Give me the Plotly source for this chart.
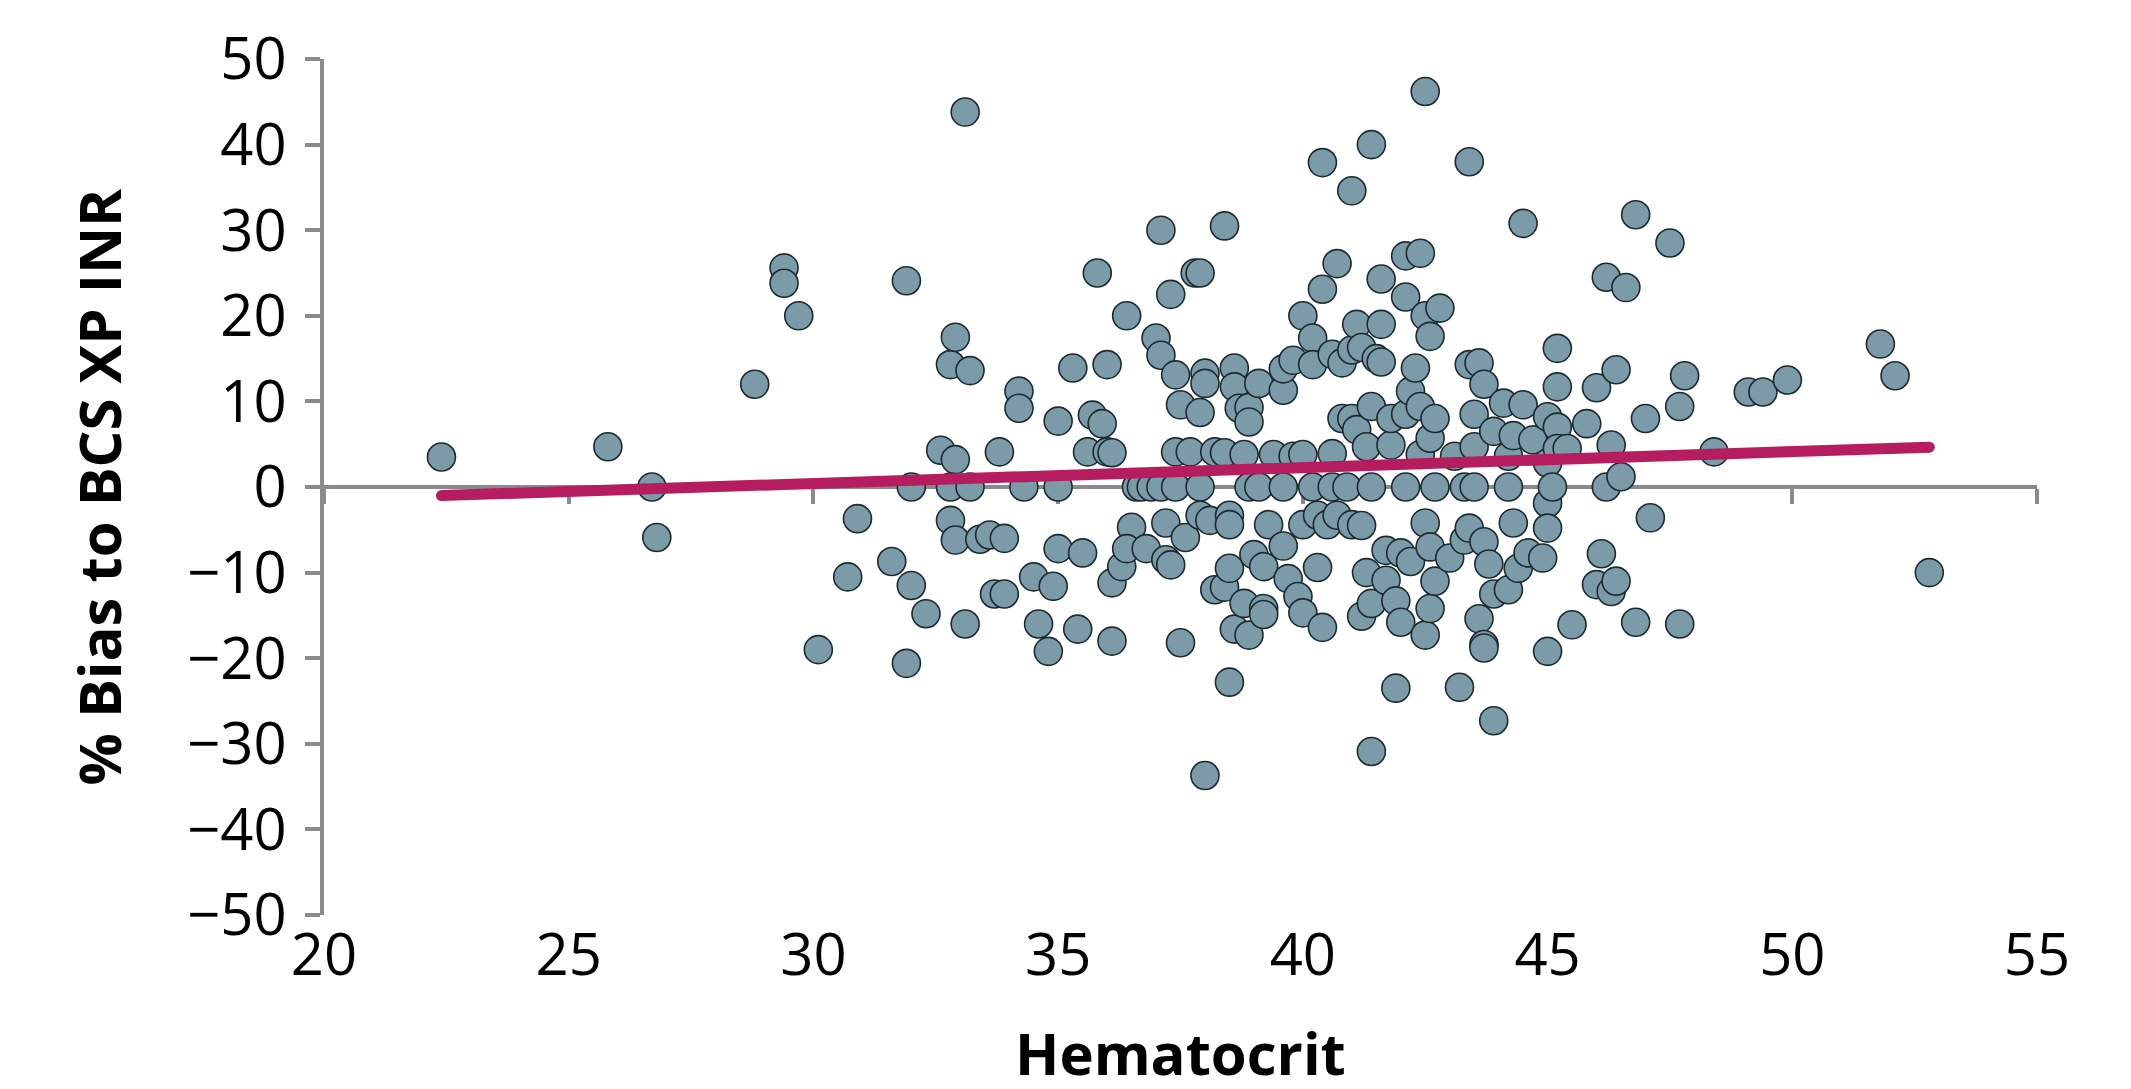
import plotly.graph_objects as go

# ---- data ----
hematocrit = [
    22.4, 25.8, 26.7, 26.8, 28.8, 29.4, 29.4, 29.7, 30.1, 30.7, 30.9, 31.6, 31.9, 32.0, 32.0, 31.9, 32.3, 32.6,
    32.8, 32.9, 32.9, 32.8, 32.8, 32.9, 33.1, 33.2, 33.2, 33.1, 33.4, 33.6, 33.9, 33.8, 33.7, 33.9, 34.2, 34.2,
    34.3, 34.5, 34.6, 34.8, 34.9, 35.0, 35.0, 35.0, 35.3,
    35.4, 35.5, 35.6, 35.7, 35.8, 35.9, 36.0, 36.0, 36.1, 36.1, 36.1, 36.3, 36.4, 36.5, 36.4, 36.6, 36.8, 36.7, 36.9,
    37.0, 37.1, 37.1, 37.2, 37.2, 37.3, 37.3, 37.4, 37.4, 37.1, 37.4, 37.5, 37.5, 37.6, 37.7, 37.8, 37.9, 37.9, 37.9,
    37.9, 38.0, 38.0, 38.0, 38.1, 38.2, 38.2, 38.4, 38.4, 38.4, 38.5, 38.5, 38.5, 38.5, 38.6, 38.6, 38.6, 38.7, 38.8,
    38.8, 38.9, 38.9, 38.9, 38.9, 39.0, 39.1, 39.1, 39.2, 39.2, 39.2, 39.3, 39.4, 39.6, 39.6, 39.6, 39.6, 39.7, 39.8,
    39.8, 39.9,
    40.0, 40.0, 40.0, 40.0, 40.2, 40.2, 40.2, 40.3, 40.3, 40.4, 40.4, 40.4, 40.5, 40.6, 40.6, 40.6, 40.7, 40.7, 40.8,
    40.8, 40.9, 41.0, 41.0, 41.0, 41.0, 41.1, 41.1, 41.2, 41.2, 41.2, 41.3, 41.3, 41.4, 41.4, 41.4, 41.4, 41.4, 41.5,
    41.6, 41.6, 41.6, 41.7, 41.7, 41.8, 41.8, 41.9, 41.9, 42.0, 42.0, 42.1, 42.1, 42.1, 42.1, 42.2, 42.2, 42.3, 42.4,
    42.4, 42.4, 42.5, 42.5, 42.5, 42.5, 42.6, 42.6, 42.6, 42.6, 42.7, 42.7, 42.7, 42.8,
    43.0, 43.1, 43.2, 43.3, 43.3, 43.4, 43.4, 43.4, 43.5, 43.5, 43.5, 43.6, 43.6, 43.7, 43.7, 43.7, 43.7, 43.8, 43.9,
    43.9, 43.9, 44.1, 44.2, 44.2, 44.2, 44.3, 44.3, 44.4, 44.5, 44.5, 44.6, 44.7, 44.9, 45.0, 45.0, 45.0, 45.0, 45.0,
    45.1, 45.2, 45.2, 45.2, 45.2, 45.4, 45.5, 45.8,
    46.0, 46.1, 46.0, 46.2, 46.2, 46.3, 46.3, 46.4, 46.4, 46.5, 46.6, 46.8, 46.8, 47.0, 47.1, 47.5, 47.7, 47.7, 47.8,
    48.4, 49.1, 49.4, 49.9, 51.8, 52.1, 52.8,
]
bias = [
    3.5, 4.7, 0.0, -5.9, 12.0, 25.6, 23.8, 20.0, -19.0, -10.5, -3.7, -8.7, 24.1, 0.0, -11.5, -20.6, -14.8, 4.3,
    14.3, 17.5, 3.2, 0.0, -3.9, -6.2, 43.8, 13.6, 0.0, -16.0, -6.1, -5.6, -6.0, 4.1, -12.5, -12.5, 11.2, 9.2,
    0.0, -10.5, -16.0, -19.2, -11.6, 7.7, -7.2, 0.0, 13.9,
    -16.6, -7.7, 4.1, 8.4, 25.0, 7.4, 14.3, 4.1, 4.0, -11.2, -18.0, -9.3, 20.0, -4.7, -7.2, 0.0, -7.2, 0.0, 0.0,
    17.4, 15.4, 30.0, -4.2, -8.5, -9.1, 22.5, 13.1, 4.1, 0.0, 0.0, 9.6, -18.2, -5.9, 4.1, 25.0, 25.0, 8.7, 0.0,
    -3.3, 13.3, 12.1, -33.7, -3.9, -12.0, 4.1, 30.5, 4.0, -11.7, -3.3, -4.4, -9.5, -22.8, 13.9, 11.7, -16.6, 9.2, -13.6,
    3.8, 9.3, 7.6, 0.0, -17.3, -7.9, 12.1, 0.0, -9.3, -14.2, -14.9, -4.4, 3.8, 11.3, 13.8, 0.0, -6.9, -10.7, 14.8,
    3.6, -12.8,
    20.0, 3.8, -14.7, -4.4, 17.4, 14.3, 0.0, -3.3, -9.4, 37.9, 23.1, -16.4, -4.4, 15.5, 3.9, 0.0, 26.1, -3.3, 8.0,
    14.5, 0.0, 34.6, 8.0, 16.0, -4.4, 19.0, 6.7, -4.5, -15.1, 16.3, 4.7, -10.0, 40.0, 9.4, 0.0, -13.6, -30.9, 15.0,
    24.3, 19.0, 14.6, -7.4, -10.9, 4.9, 8.0, -13.3, -23.5, -7.7, -15.8, 27.0, 22.2, 0.0, 8.5, 11.2, -8.7, 13.9, 27.3,
    9.4, 3.8, 46.2, 20.0, -4.2, -17.3, 17.6, 5.7, -7.0, -14.2, 8.0, 0.0, -11.0, 20.9,
    -8.3, 3.6, -23.4, 0.0, -6.2, 38.0, 14.3, -4.8, 4.7, 8.5, 0.0, 14.5, -15.4, 12.0, -6.4, -18.4, -18.8, -9.0, -12.5,
    -27.3, 6.5, 9.8, 3.6, 0.0, -12.0, -4.2, 6.0, -9.5, 30.8, 9.6, -7.7, 5.5, -8.3, 2.8, 8.2, -1.9, -4.8, -19.2,
    0.0, 16.2, 11.7, 7.0, 4.5, 4.5, -16.1, 7.4,
    11.6, -7.8, -11.4, 24.5, 0.0, 4.9, -12.2, 13.7, -11.0, 1.2, 23.3, 31.8, -15.8, 8.0, -3.6, 28.5, 9.4, -16.0, 13.0,
    4.1, 11.1, 11.1, 12.5, 16.7, 13.0, -10.0,
]
trend_x = [22.4, 52.8]
trend_y = [-1.0, 4.65]
x_ticks = [20, 25, 30, 35, 40, 45, 50, 55]
y_ticks = [-50, -40, -30, -20, -10, 0, 10, 20, 30, 40, 50]
x_range = [20, 55]
y_range = [-50, 50]
x_title = "Hematocrit"
y_title = "% Bias to BCS XP INR"

FONT = "Open Sans"
AXIS_GRAY = "#898A8D"
TREND = "#B51D5E"
FS = 58

fig = go.Figure()
fig.add_trace(go.Scatter(
    x=hematocrit, y=bias, mode="markers", xaxis="x", yaxis="y",
    marker=dict(size=28, color="#7B9BA8", line=dict(color="#1C2A32", width=1.6)),
    hoverinfo="skip",
))
fig.add_trace(go.Scatter(
    x=trend_x, y=trend_y, mode="lines+markers", xaxis="x2", yaxis="y",
    line=dict(color=TREND, width=11),
    marker=dict(size=11, color=TREND, line=dict(width=0)),
    hoverinfo="skip",
))

zero_pos = (0 - y_range[0]) / (y_range[1] - y_range[0])

# the page adds an 8px body margin; size the figure so it fits the window
fig.update_layout(
    width=2115, height=1073,
    margin=dict(l=316, r=86, t=51, b=166, autoexpand=False),
    paper_bgcolor="white", plot_bgcolor="white",
    showlegend=False,
    font=dict(family=FONT, color="black", size=FS),
    xaxis=dict(
        range=x_range, tickvals=x_ticks, showline=False, ticks="",
        showgrid=False, zeroline=False, automargin=False,
        tickfont=dict(family=FONT, size=FS, color="black"),
        ticklabelstandoff=1,
    ),
    xaxis2=dict(
        overlaying="x", matches="x", anchor="free", position=zero_pos,
        range=x_range, tickvals=x_ticks, showline=True, linecolor=AXIS_GRAY, linewidth=3.5,
        ticks="outside", ticklen=15, tickwidth=3.5, tickcolor=AXIS_GRAY, automargin=False,
        showticklabels=False, showgrid=False, zeroline=False, layer="below traces",
    ),
    yaxis=dict(
        range=y_range, tickvals=y_ticks, showline=True, linecolor=AXIS_GRAY, linewidth=3.5,
        ticks="outside", ticklen=15, tickwidth=3.5, tickcolor=AXIS_GRAY,
        showgrid=False, zeroline=False, automargin=False,
        tickfont=dict(family=FONT, size=FS, color="black"),
        ticklabelstandoff=7,
        title=dict(text="<b>" + y_title + "</b>", font=dict(family=FONT, size=FS, color="black"), standoff=48),
    ),
    annotations=[dict(
        text="<b>" + x_title + "</b>", xref="paper", yref="paper", x=0.5, y=-0.161,
        xanchor="center", yanchor="middle", showarrow=False,
        font=dict(family=FONT, size=FS, color="black"),
    )],
)

fig.write_html("out.html")
